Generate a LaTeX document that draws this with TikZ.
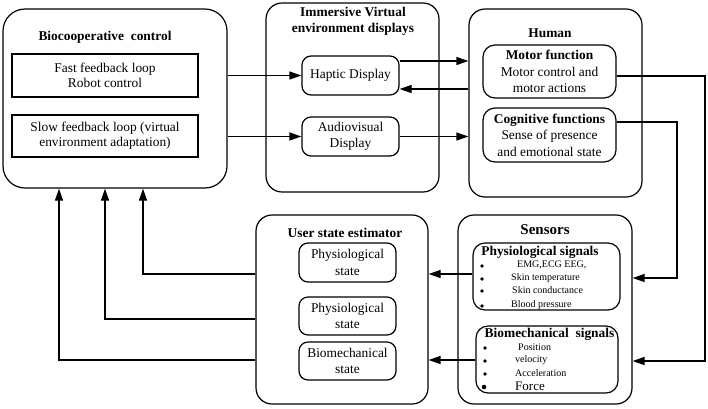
\documentclass[tikz,border=0pt]{standalone}
\usepackage{fontspec}
\setmainfont{Liberation Serif}
\usetikzlibrary{arrows.meta}
\begin{document}
\begin{tikzpicture}[x=1pt,y=-1pt,
  outer/.style={draw, line width=1.2pt, rounded corners=16pt, inner sep=0pt},
  rbox/.style={draw, line width=1.2pt, rounded corners=9pt, inner sep=0pt, align=center, font=\fontsize{13.4}{16.5}\selectfont},
  sbox/.style={draw, line width=1.2pt, inner sep=0pt, align=center, font=\fontsize{13.4}{15}\selectfont},
  ttl/.style={inner sep=0pt, align=center, font=\fontsize{13.4}{16}\selectfont\bfseries},
  itm/.style={inner sep=0pt, anchor=west, font=\fontsize{10}{12}\selectfont},
  bul/.style={circle, fill, inner sep=0pt, minimum size=3.6pt},
  arr/.style={line width=1.2pt, -{Triangle[length=12pt,width=8pt]}}]
\useasboundingbox (0,0) rectangle (708,408);
% outer boxes
\node[outer, minimum width=224pt, minimum height=179pt, rounded corners=22pt] (bio) at (115,98.5) {};
\node[outer, minimum width=173pt, minimum height=189pt] (imm) at (352.5,97.5) {};
\node[outer, minimum width=173pt, minimum height=188pt] (human) at (555.5,103) {};
\node[outer, minimum width=174pt, minimum height=189pt] (sensors) at (545,309.5) {};
\node[outer, minimum width=172pt, minimum height=189pt] (user) at (342,309.5) {};
% titles
\node[ttl] (tbio) at (105,37) {Biocooperative\ \ control};
\node[ttl] (timm) at (353,21) {Immersive Virtual\\environment displays};
\node[ttl] (thum) at (550,33) {Human};
\node[ttl, font=\fontsize{15}{18}\selectfont\bfseries] (tsen) at (545,230) {Sensors};
\node[ttl] (tuser) at (345,233) {User state estimator};
% inner boxes
\node[sbox, minimum width=186pt, minimum height=43pt] (fast) at (105,75.5) {Fast feedback loop\\Robot control};
\node[sbox, minimum width=186pt, minimum height=42pt] (slow) at (105,136) {Slow feedback loop (virtual\\environment adaptation)};
\node[rbox, minimum width=97pt, minimum height=39pt] (haptic) at (350.5,75.5) {Haptic Display};
\node[rbox, minimum width=97pt, minimum height=39pt] (audio) at (350.5,136.5) {Audiovisual\\Display};
\node[rbox, minimum width=133pt, minimum height=53pt, rounded corners=12pt] (motor) at (549.5,71.5) {\textbf{Motor function}\\Motor control and\\motor actions};
\node[rbox, minimum width=133pt, minimum height=54pt, rounded corners=12pt] (cog) at (549.5,135) {\textbf{Cognitive functions}\\Sense of presence\\and emotional state};
\node[rbox, minimum width=147pt, minimum height=67pt, rounded corners=12pt] (psig) at (546.5,276.5) {};
\node[rbox, minimum width=142pt, minimum height=67pt, rounded corners=12pt] (bsig) at (547,359.5) {};
\node[rbox, minimum width=97pt, minimum height=39pt] (ps1) at (347.5,262.5) {Physiological\\state};
\node[rbox, minimum width=97pt, minimum height=38pt] (ps2) at (347.5,316) {Physiological\\state};
\node[rbox, minimum width=97pt, minimum height=38pt] (bms) at (347.5,361) {Biomechanical\\state};
% signal lists
\node[ttl] (tpsig) at (540,252) {Physiological signals};
\node[bul] (pb1) at (482,266) {};
\node[bul] (pb2) at (482,279) {};
\node[bul] (pb3) at (482,291) {};
\node[bul] (pb4) at (482,306) {};
\node[itm] (pi1) at (517,265) {EMG,ECG EEG,};
\node[itm] (pi2) at (511,278) {Skin temperature};
\node[itm] (pi3) at (512,290) {Skin conductance};
\node[itm] (pi4) at (511,305) {Blood pressure};
\node[ttl] (tbsig) at (549.5,334) {Biomechanical\ \ signals};
\node[bul] (bb1) at (485,348) {};
\node[bul] (bb2) at (485,361) {};
\node[bul] (bb3) at (485,374) {};
\node[bul, minimum size=4.6pt] (bb4) at (484,387) {};
\node[itm] (bi1) at (518,347) {Position};
\node[itm] (bi2) at (515,360) {velocity};
\node[itm] (bi3) at (515,373) {Acceleration};
\node[itm, font=\fontsize{13}{14}\selectfont] (bi4) at (515,386) {Force};
% helper coordinates
\coordinate (yA) at (0,61);
\coordinate (yB) at (0,89);
\coordinate (yM) at (0,76);
\coordinate (yC) at (0,122);
\coordinate (yP) at (0,278);
\coordinate (yQ) at (0,361);
\coordinate (y1) at (0,274);
\coordinate (y2) at (0,319);
\coordinate (y3) at (0,360);
\coordinate (xR1) at (705,0);
\coordinate (xR2) at (677,0);
\coordinate (x1) at (143,0);
\coordinate (x2) at (105,0);
\coordinate (x3) at (59,0);
% connectors
\draw[arr] (bio.east |- haptic) -- (haptic.west);
\draw[arr] (bio.east |- audio) -- (audio.west);
\draw[arr] (haptic.east |- yA) -- (human.west |- yA);
\draw[arr] (human.west |- yB) -- (haptic.east |- yB);
\draw[arr] (audio.east) -- (human.west |- audio);
\draw[arr] (motor.east |- yM) -| (xR1 |- yQ) -- (sensors.east |- yQ);
\draw[arr] (cog.east |- yC) -| (xR2 |- yP) -- (sensors.east |- yP);
\draw[arr] (psig.west |- y1) -- (user.east |- y1);
\draw[arr] (bsig.west |- y3) -- (user.east |- y3);
\draw[arr] (user.west |- y1) -| (x1 |- bio.south);
\draw[arr] (user.west |- y2) -| (x2 |- bio.south);
\draw[arr] (user.west |- y3) -| (x3 |- bio.south);
\end{tikzpicture}
\end{document}
